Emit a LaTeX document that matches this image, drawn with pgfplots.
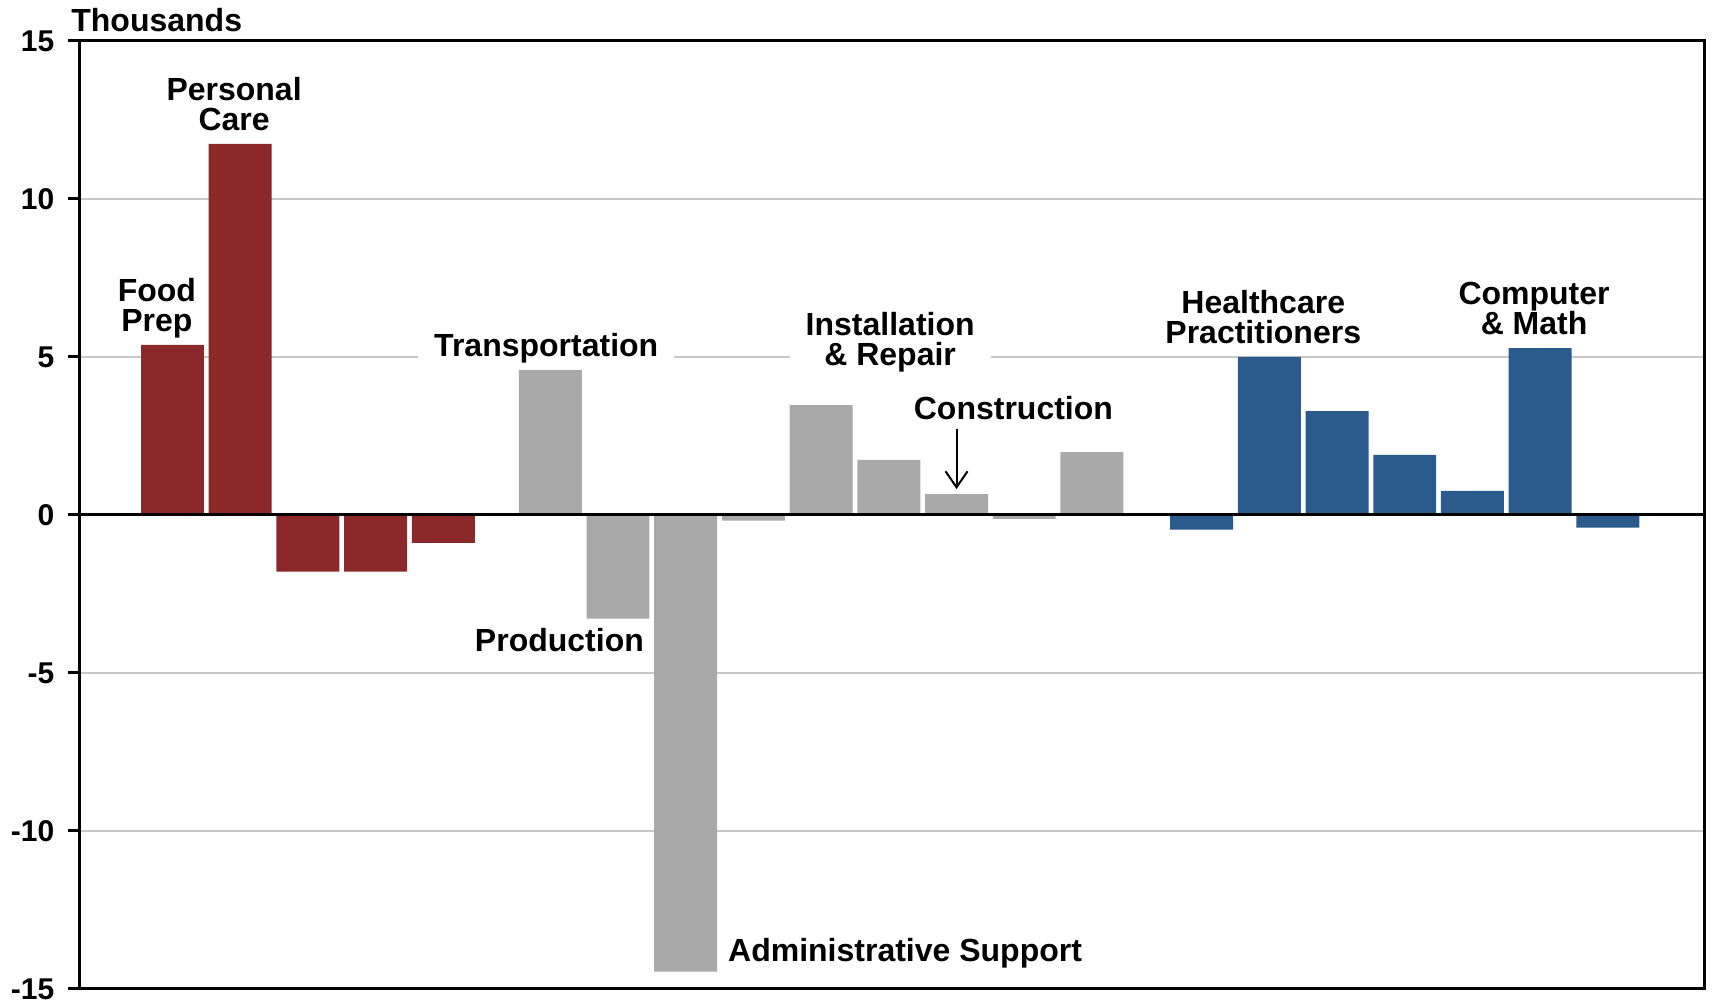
\documentclass[border=0pt]{standalone}
\usepackage{pgfplots}
\pgfplotsset{compat=1.18}
\usetikzlibrary{arrows.meta}
\usepackage{fontspec}
\setmainfont{Liberation Sans}
\definecolor{cred}{HTML}{8B292A}
\definecolor{cgray}{HTML}{A9A9A9}
\definecolor{cblue}{HTML}{2A5B8C}
\definecolor{cgrid}{HTML}{C8C8C8}
\tikzset{lab/.style={font=\bfseries\fontsize{16}{15}\selectfont, align=center, inner sep=1pt}}
\pgfplotstableread{
x y
0 5.38
1 11.74
2 -1.79
3 -1.79
4 -0.88
}\redtab
\pgfplotstableread{
x y
5.58 4.59
6.58 -3.28
7.58 -14.45
8.58 -0.18
9.58 3.48
10.58 1.74
11.58 0.66
12.58 -0.12
13.58 1.99
}\graytab
\pgfplotstableread{
x y
15.2 -0.46
16.2 5.00
17.2 3.29
18.2 1.90
19.2 0.76
20.2 5.28
21.2 -0.40
}\bluetab
\begin{document}
\begin{tikzpicture}
\begin{axis}[
  scale only axis, width=812pt, height=474pt,
  xmin=-1.366, xmax=22.62, ymin=-15, ymax=15,
  ytick={-15,-10,-5,0,5,10,15},
  xtick=\empty,
  ymajorgrids, grid style={cgrid, line width=1pt},
  axis line style={line width=1.5pt},
  every tick/.style={line width=1.5pt, black},
  tick align=outside, major tick length=6pt,
  ytick pos=left,
  yticklabel style={font=\bfseries\fontsize{15}{15}\selectfont, xshift=-3.3pt},
  /pgf/number format/assume math mode=true,
  clip=false,
]
\addplot[ybar, bar width=0.93, bar shift=0pt, fill=cred, draw=none] table[x=x,y=y] {\redtab};
\addplot[ybar, bar width=0.93, bar shift=0pt, fill=cgray, draw=none] table[x=x,y=y] {\graytab};
\addplot[ybar, bar width=0.93, bar shift=0pt, fill=cblue, draw=none] table[x=x,y=y] {\bluetab};
\draw[line width=1.5pt, black] (rel axis cs:0,0.5) -- (rel axis cs:1,0.5);
\node[lab] at (axis cs:-0.23,6.54) {Food\\Prep};
\node[lab] at (axis cs:0.91,13.0) {Personal\\Care};
\node[lab, fill=white, inner xsep=8pt] at (axis cs:5.52,5.28) {Transportation};
\node[lab, fill=white, inner xsep=8pt] at (axis cs:10.6,5.47) {Installation\\\& Repair};
\node[lab] at (axis cs:12.42,3.37) {Construction};
\draw[-{Straight Barb[length=8pt,width=11pt]}, line width=1pt] (axis cs:11.58,2.72) -- (axis cs:11.58,0.82);
\node[lab] at (axis cs:5.715,-3.95) {Production};
\node[lab] at (axis cs:10.82,-13.87) {Administrative Support};
\node[lab] at (axis cs:16.11,6.27) {Healthcare\\Practitioners};
\node[lab] at (axis cs:20.11,6.55) {Computer\\\& Math};
\node[font=\bfseries\fontsize{16}{15}\selectfont, anchor=west, inner sep=0pt] at (axis cs:-1.499,15.66) {Thousands};
\end{axis}
\pgfresetboundingbox
\path[use as bounding box] ([xshift=-40pt,yshift=-6.5pt]current axis.south west) rectangle ([xshift=4pt,yshift=20.5pt]current axis.north east);
\end{tikzpicture}
\end{document}
